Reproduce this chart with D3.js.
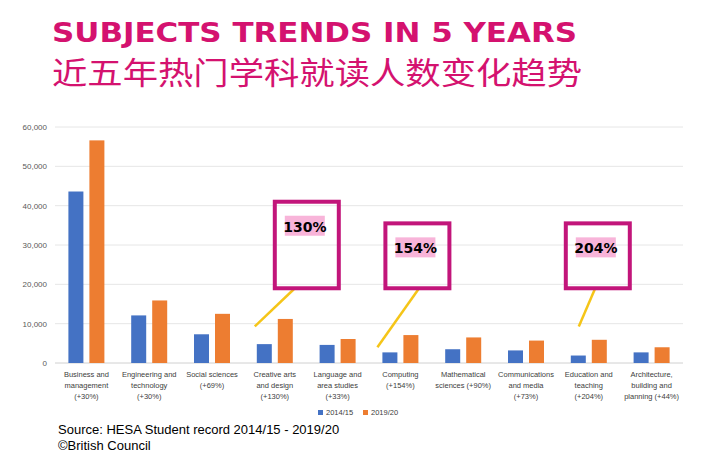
<!DOCTYPE html>
<html><head><meta charset="utf-8">
<script src="https://cdn.jsdelivr.net/npm/d3@7"></script>
<style>body{margin:0;background:#fff}svg{display:block}</style>
</head><body><div id="chart"></div>
<script>
var categories = [
  ['Business and', 'management', '(+30%)'],
  ['Engineering and', 'technology', '(+30%)'],
  ['Social sciences', '(+69%)'],
  ['Creative arts', 'and design', '(+130%)'],
  ['Language and', 'area studies', '(+33%)'],
  ['Computing', '(+154%)'],
  ['Mathematical', 'sciences (+90%)'],
  ['Communications', 'and media', '(+73%)'],
  ['Education and', 'teaching', '(+204%)'],
  ['Architecture,', 'building and', 'planning (+44%)']
]
var values1415 = [43600, 12100, 7300, 4800, 4600, 2700, 3500, 3200, 1900, 2700]
var values1920 = [56600, 15900, 12500, 11200, 6100, 7100, 6500, 5700, 5900, 4000]
var yTicks = [0, 10000, 20000, 30000, 40000, 50000, 60000]
var callouts = ['130%', '154%', '204%']
var calloutCats = [3, 5, 8]

// callout box layout (value units for y, pixel offsets for x)
var calloutLayout = [
  { dx: 0, top: 41000, bottom: 19000, lineFrom: [-20, 9300], lineTo: [19] },
  { dx: -15, top: 35500, bottom: 19000, lineFrom: [-23, 4000], lineTo: [33] },
  { dx: -23, top: 35500, bottom: 19000, lineFrom: [-10, 9300], lineTo: [29] }
]

var width = 701, height = 457
var margin = { left: 55, right: 18, top: 127, bottom: 94 }
var svg = d3.select('#chart').append('svg').attr('width', width).attr('height', height)

svg.append('text').attr('x', 52).attr('y', 42).attr('fill', '#d4126f')
  .attr('font-family', 'DejaVu Sans').attr('font-weight', 'bold').attr('font-size', 27)
  .attr('textLength', 525).attr('lengthAdjust', 'spacingAndGlyphs')
  .text('SUBJECTS TRENDS IN 5 YEARS')
svg.append('text').attr('x', 52).attr('y', 84).attr('fill', '#d4126f')
  .attr('font-family', 'Noto Sans CJK SC').attr('font-size', 31)
  .attr('textLength', 530).attr('lengthAdjust', 'spacingAndGlyphs')
  .text('近五年热门学科就读人数变化趋势')

var x = d3.scaleBand().domain(d3.range(categories.length))
  .range([margin.left, width - margin.right])
var y = d3.scaleLinear().domain([0, 60000]).range([height - margin.bottom, margin.top])

svg.append('g').selectAll('line').data(yTicks).join('line')
  .attr('x1', margin.left).attr('x2', width - margin.right)
  .attr('y1', d => y(d)).attr('y2', d => y(d))
  .attr('stroke', d => d === 0 ? '#d0d0d0' : '#e6e6e6')
svg.append('g').selectAll('text').data(yTicks).join('text')
  .attr('x', 47).attr('y', d => y(d) + 3).attr('text-anchor', 'end')
  .attr('font-family', 'Liberation Sans').attr('font-size', 8).attr('fill', '#595959')
  .text(d => d3.format(',')(d))

var bw = 15
function bars(vals, off, color) {
  svg.append('g').selectAll('rect').data(vals).join('rect')
    .attr('x', (d, i) => x(i) + x.bandwidth() / 2 + off)
    .attr('width', bw)
    .attr('y', d => y(d)).attr('height', d => y(0) - y(d))
    .attr('fill', color)
}
bars(values1415, -bw - 3, '#4472c4')
bars(values1920, 3, '#ed7d31')

svg.append('g').selectAll('text').data(categories).join('text')
  .attr('font-family', 'Liberation Sans').attr('font-size', 7.5).attr('fill', '#404040')
  .attr('text-anchor', 'middle')
  .each(function (d, i) {
    d3.select(this).selectAll('tspan').data(d).join('tspan')
      .attr('x', x(i) + x.bandwidth() / 2).attr('y', (t, j) => 377 + j * 11).text(t => t)
  })

var lg = svg.append('g').attr('font-family', 'Liberation Sans').attr('font-size', 7.5).attr('fill', '#404040')
lg.append('rect').attr('x', 318).attr('y', 410).attr('width', 5).attr('height', 5).attr('fill', '#4472c4')
lg.append('text').attr('x', 326).attr('y', 415).text('2014/15')
lg.append('rect').attr('x', 363).attr('y', 410).attr('width', 5).attr('height', 5).attr('fill', '#ed7d31')
lg.append('text').attr('x', 371).attr('y', 415).text('2019/20')

callouts.forEach((label, k) => {
  var L = calloutLayout[k]
  var cx = x(calloutCats[k]) + x.bandwidth() / 2
  var bx = cx + L.dx, by = y(L.top), bwid = 64, bh = y(L.bottom) - y(L.top)
  svg.append('line').attr('x1', cx + L.lineFrom[0]).attr('y1', y(L.lineFrom[1]))
    .attr('x2', bx + L.lineTo[0]).attr('y2', by + bh + 1)
    .attr('stroke', '#f5c518').attr('stroke-width', 2.5)
  svg.append('rect').attr('x', bx).attr('y', by).attr('width', bwid).attr('height', bh)
    .attr('fill', 'none').attr('stroke', '#c2157a').attr('stroke-width', 4)
  svg.append('rect').attr('x', bx + 10).attr('y', by + 14).attr('width', 40).attr('height', 20)
    .attr('fill', '#f8b4d9')
  svg.append('text').attr('x', bx + 30).attr('y', by + 30).attr('text-anchor', 'middle')
    .attr('font-family', 'DejaVu Sans').attr('font-weight', 'bold').attr('font-size', 14)
    .text(label)
})

svg.append('text').attr('x', 58).attr('y', 434).attr('font-family', 'Liberation Sans')
  .attr('font-size', 13).text('Source: HESA Student record 2014/15 - 2019/20')
svg.append('text').attr('x', 58).attr('y', 450).attr('font-family', 'Liberation Sans')
  .attr('font-size', 13).text('©British Council')
</script></body></html>
